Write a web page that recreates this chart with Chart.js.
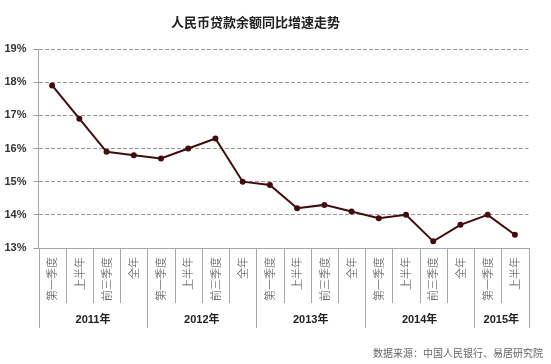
<!DOCTYPE html>
<html>
<head>
<meta charset="utf-8">
<script src="https://cdn.jsdelivr.net/npm/chart.js@4"></script>
<style>
  body { margin: 0; background: #fff; }
  #wrap { position: relative; width: 551px; height: 364px; }
  #title { position: absolute; left: 0; width: 511px; top: 12px; text-align: center;
    font: bold 13px 'Noto Sans CJK SC', sans-serif; color: #222; }
  #source { position: absolute; right: 8px; top: 345px;
    font: 10px 'Noto Sans CJK SC', sans-serif; color: #666; }
</style>
</head>
<body>
<div id="wrap">
  <canvas id="loanChart" width="551" height="364"></canvas>
  <div id="title">人民币贷款余额同比增速走势</div>
  <div id="source">数据来源：中国人民银行、易居研究院</div>
</div>
<script>
const periods = [
  '第一季度', '上半年', '前三季度', '全年',
  '第一季度', '上半年', '前三季度', '全年',
  '第一季度', '上半年', '前三季度', '全年',
  '第一季度', '上半年', '前三季度', '全年',
  '第一季度', '上半年',
];
const loanGrowth = [
  17.9, 16.9, 15.9, 15.8,
  15.7, 16.0, 16.3, 15.0,
  14.9, 14.2, 14.3, 14.1,
  13.9, 14.0, 13.2, 13.7,
  14.0, 13.4,
];
const years = ['2011年', '2012年', '2013年', '2014年', '2015年'];
const yearSpans = [4, 4, 4, 4, 2];
const yTicks = [13, 14, 15, 16, 17, 18, 19];

// draws category boxes and year labels under the x axis
const yearGroups = {
  id: 'yearGroups',
  afterDraw(chart) {
    const ctx = chart.ctx;
    const x = chart.scales.x;
    const bottom = chart.chartArea.bottom;
    const step = x.width / periods.length;
    const yearEdges = [0];
    yearSpans.forEach((n) => yearEdges.push(yearEdges[yearEdges.length - 1] + n));

    ctx.save();
    ctx.strokeStyle = '#a6a6a6';
    ctx.lineWidth = 1;
    for (let i = 0; i <= periods.length; i++) {
      const px = Math.round(x.left + i * step) + 0.5;
      const isYear = yearEdges.includes(i);
      ctx.beginPath();
      ctx.moveTo(px, bottom);
      ctx.lineTo(px, isYear ? bottom + 80 : bottom + 55);
      ctx.stroke();
    }

    ctx.fillStyle = '#222';
    ctx.font = 'bold 11px "Liberation Sans", "Noto Sans CJK SC", sans-serif';
    ctx.textAlign = 'center';
    ctx.textBaseline = 'middle';
    years.forEach((yr, i) => {
      const cx = x.left + ((yearEdges[i] + yearEdges[i + 1]) / 2) * step;
      ctx.fillText(yr, cx, bottom + 72);
    });
    ctx.restore();
  },
};

function initChart() {
  const ctx = document.getElementById('loanChart').getContext('2d');

  new Chart(ctx, {
    type: 'line',
    data: {
      labels: periods,
      datasets: [
        {
          label: '人民币贷款余额同比增速',
          data: loanGrowth,
          borderColor: '#420c0c',
          backgroundColor: '#420c0c',
          borderWidth: 2,
          tension: 0,
          pointRadius: 2,
          pointHoverRadius: 2,
        },
      ],
    },
    options: {
      responsive: false,
      animation: false,
      layout: { padding: { top: 49, right: 22.5, bottom: 0, left: 0 } },
      plugins: {
        legend: { display: false },
        tooltip: { enabled: false },
      },
      scales: {
        x: {
          offset: true,
          grid: { drawOnChartArea: false, drawTicks: false },
          border: { color: '#a6a6a6', width: 1 },
          ticks: {
            autoSkip: false,
            minRotation: 90,
            maxRotation: 90,
            padding: 9,
            color: '#444',
            font: { family: "'Noto Sans CJK SC', sans-serif", size: 11, weight: 300 },
          },
          afterFit: (s) => { s.height = 116; },
        },
        y: {
          min: yTicks[0],
          max: yTicks[yTicks.length - 1],
          afterBuildTicks: (s) => { s.ticks = yTicks.map((v) => ({ value: v })); },
          grid: {
            color: (c) => (c.tick && c.tick.value === yTicks[0] ? 'rgba(0,0,0,0)' : '#9a9a9a'),
            tickColor: '#9a9a9a',
            tickLength: 5,
          },
          border: { color: '#a6a6a6', width: 1, dash: [4, 2] },
          ticks: {
            padding: 7,
            color: '#333',
            font: { family: "'Liberation Sans', sans-serif", size: 11, weight: 'bold' },
            callback: (v) => v + '%',
          },
          afterFit: (s) => { s.width = 38.5; },
        },
      },
    },
    plugins: [yearGroups],
  });
}

document.addEventListener('DOMContentLoaded', () => {
  initChart();
});
</script>
</body>
</html>
